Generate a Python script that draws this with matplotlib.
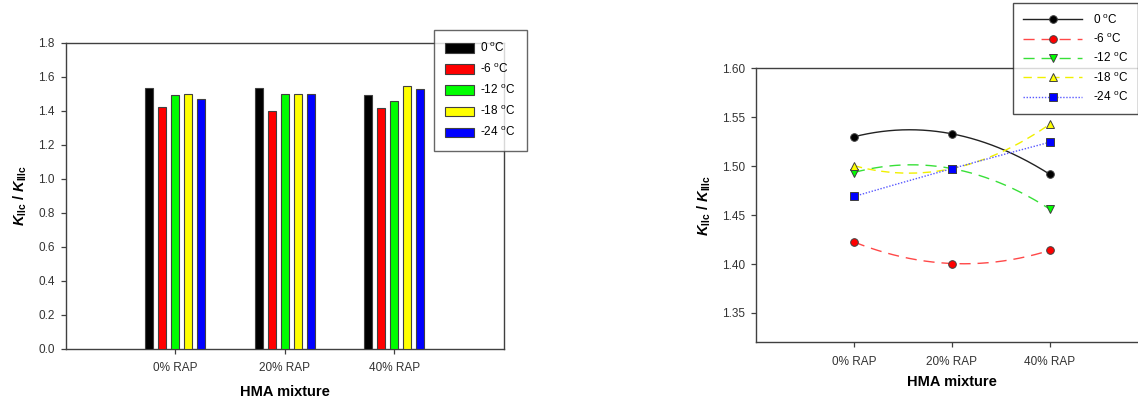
import numpy as np
import matplotlib
matplotlib.use("Agg")
import matplotlib.pyplot as plt
from matplotlib.lines import Line2D
from matplotlib.patches import Patch

plt.rcParams['font.family'] = ['Liberation Sans', 'DejaVu Sans']
plt.rcParams['mathtext.fontset'] = 'custom'
plt.rcParams['mathtext.rm'] = 'Liberation Sans'
plt.rcParams['mathtext.it'] = 'Liberation Sans:italic:bold'
plt.rcParams['mathtext.bf'] = 'Liberation Sans:bold'

# --- Data ---
mixtures = ['0% RAP', '20% RAP', '40% RAP']
temps = ['0', '-6', '-12', '-18', '-24']
k_0 = [1.530, 1.533, 1.4915]
k_m6 = [1.4225, 1.4005, 1.414]
k_m12 = [1.4935, 1.4975, 1.456]
k_m18 = [1.5005, 1.4975, 1.543]
k_m24 = [1.469, 1.4975, 1.5245]
series = [k_0, k_m6, k_m12, k_m18, k_m24]

bar_colors = ['#000000', '#ff0000', '#00ff00', '#ffff00', '#0000ff']
line_colors = ['#222222', '#ff4848', '#38e038', '#f0f000', '#5858ff']
line_styles = ['-', (0, (8, 5)), (0, (8, 5)), (0, (6, 4)), (0, (1, 1.2))]
markers = ['o', 'o', 'v', '^', 's']

labels = [t + r' $^{\mathrm{o}}$C' for t in temps]
ylab = r'$\mathit{K}_{\mathbf{IIc}}$ / $\mathit{K}_{\mathbf{IIIc}}$'
edge = '#404040'

fig = plt.figure(figsize=(11.38, 4.03), dpi=100)

# --- Bar chart ---
ax1 = fig.add_axes([0.058, 0.134, 0.3846, 0.7605])
x = np.arange(len(mixtures))
w = 0.073
pitch = 0.119
for i, vals in enumerate(series):
    ax1.bar(x + (i - 2) * pitch, vals, width=w, color=bar_colors[i],
            edgecolor=edge, linewidth=0.8, zorder=3)
ax1.set_xlim(-1, 3)
ax1.set_ylim(0, 1.8)
ax1.set_yticks(np.arange(0, 1.81, 0.2))
ax1.set_yticklabels([f'{v:.1f}' for v in np.arange(0, 1.81, 0.2)])
ax1.set_xticks(x)
ax1.set_xticklabels(mixtures)
ax1.set_xlabel('HMA mixture', fontsize=10.5, fontweight='bold')
ax1.set_ylabel(ylab, fontsize=10.5, fontweight='bold')
ax1.xaxis.set_label_coords(0.5, -0.117)
ax1.yaxis.set_label_coords(-0.085, 0.5)

leg1_handles = [Patch(facecolor=c, edgecolor=edge, linewidth=0.8) for c in bar_colors]
fig.legend(leg1_handles, labels, loc='upper left', bbox_to_anchor=(0.3814, 0.9256),
           fontsize=8.5, frameon=True, fancybox=False, edgecolor=edge,
           handlelength=2.45, handleheight=0.85, handletextpad=0.5,
           labelspacing=0.62, borderpad=0.95, borderaxespad=0)

# --- Line chart ---
ax2 = fig.add_axes([0.6643, 0.1506, 0.3445, 0.68])
xs = np.linspace(0, 2, 200)
handles = []
for i, vals in enumerate(series):
    # smooth curve through the three points, like the original spline plot
    coef = np.polyfit(x, vals, 2)
    ax2.plot(xs, np.polyval(coef, xs), color=line_colors[i], linestyle=line_styles[i],
             linewidth=1.0, zorder=2)
    mcol = bar_colors[i]
    ax2.plot(x, vals, linestyle='none', marker=markers[i], markersize=5.5,
             markerfacecolor=mcol, markeredgecolor='#404040', markeredgewidth=0.7, zorder=3)
    handles.append(Line2D([0], [0], color=line_colors[i], linestyle=line_styles[i], linewidth=1.0,
                          marker=markers[i], markersize=5.5, markerfacecolor=mcol,
                          markeredgecolor='#404040', markeredgewidth=0.7))
ax2.set_xlim(-1, 3)
ax2.set_ylim(1.32, 1.60)
ax2.set_yticks(np.arange(1.35, 1.601, 0.05))
ax2.set_yticklabels([f'{v:.2f}' for v in np.arange(1.35, 1.601, 0.05)])
ax2.set_xticks(x)
ax2.set_xticklabels(mixtures)
ax2.set_xlabel('HMA mixture', fontsize=10.5, fontweight='bold')
ax2.set_ylabel(ylab, fontsize=10.5, fontweight='bold')
ax2.xaxis.set_label_coords(0.5, -0.118)
ax2.yaxis.set_label_coords(-0.109, 0.5)

fig.legend(handles, labels, loc='upper left', bbox_to_anchor=(0.8904, 0.9933),
           fontsize=8.5, frameon=True, fancybox=False, edgecolor='#202020',
           handlelength=5.0, handletextpad=0.9, labelspacing=0.47,
           borderpad=0.85, borderaxespad=0)

for ax in (ax1, ax2):
    for s in ax.spines.values():
        s.set_color(edge)
        s.set_linewidth(1.0)
    ax.tick_params(direction='out', length=3.5, width=0.9, color=edge,
                   labelsize=8.5, labelcolor='#333333', pad=4.5)
    ax.tick_params(axis='x', pad=6)

plt.savefig('out.png', dpi=100)
